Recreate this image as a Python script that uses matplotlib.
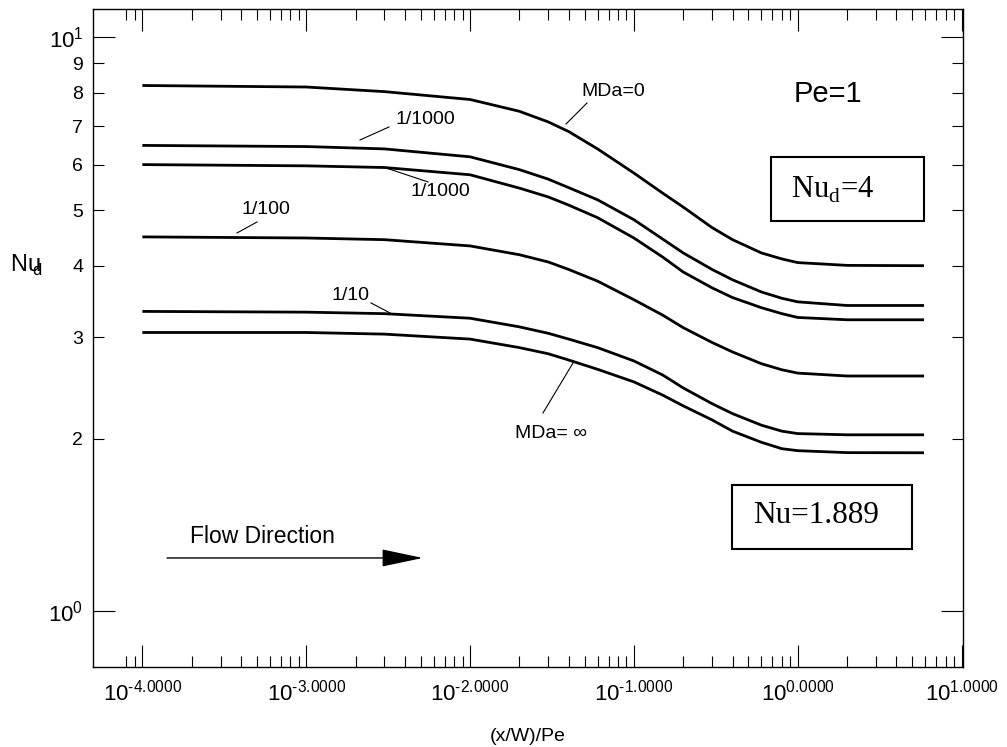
import numpy as np
import matplotlib
matplotlib.use("Agg")
from matplotlib import pyplot as plt
from matplotlib.ticker import FixedLocator, FixedFormatter, NullFormatter
from matplotlib.patches import Rectangle

plt.rcParams['font.family'] = ['Liberation Sans', 'DejaVu Sans']

#======Data======
xPts = [1e-4, 1e-3, 3e-3, 1e-2, 2e-2, 3e-2, 4e-2, 6e-2, 0.1, 0.15, 0.2, 0.3, 0.4, 0.6, 0.8, 1.0, 2.0, 5.9]
nuMDa0 = [8.24, 8.19, 8.04, 7.79, 7.43, 7.12, 6.85, 6.39, 5.80, 5.35, 5.06, 4.66, 4.44, 4.21, 4.11, 4.05, 4.005, 4.00]
nuA = [6.48, 6.45, 6.39, 6.19, 5.88, 5.66, 5.47, 5.21, 4.81, 4.45, 4.21, 3.94, 3.78, 3.60, 3.51, 3.46, 3.41, 3.41]
nuB = [6.00, 5.97, 5.93, 5.76, 5.46, 5.27, 5.10, 4.85, 4.47, 4.14, 3.90, 3.66, 3.52, 3.38, 3.30, 3.25, 3.22, 3.22]
nu100 = [4.49, 4.47, 4.44, 4.33, 4.18, 4.06, 3.94, 3.76, 3.49, 3.28, 3.12, 2.94, 2.83, 2.70, 2.635, 2.60, 2.57, 2.57]
nu10 = [3.33, 3.32, 3.30, 3.24, 3.13, 3.05, 2.98, 2.88, 2.73, 2.58, 2.45, 2.30, 2.21, 2.11, 2.06, 2.04, 2.03, 2.03]
nuInf = [3.06, 3.06, 3.04, 2.98, 2.88, 2.81, 2.74, 2.64, 2.51, 2.38, 2.28, 2.155, 2.06, 1.97, 1.92, 1.905, 1.89, 1.889]
curves = [nuMDa0, nuA, nuB, nu100, nu10, nuInf]

xMajor = [1e-4, 1e-3, 1e-2, 1e-1, 1e0, 1e1]
xMajorLabels = ['$\\mathregular{10^{\u20104.0000}}$', '$\\mathregular{10^{\u20103.0000}}$',
                '$\\mathregular{10^{\u20102.0000}}$', '$\\mathregular{10^{\u20101.0000}}$',
                r'$\mathregular{10^{0.0000}}$', r'$\mathregular{10^{1.0000}}$']
yMajor = [1, 10]
yMajorLabels = [r'$\mathregular{10^{0}}$', r'$\mathregular{10^{1}}$']
yMinor = [2, 3, 4, 5, 6, 7, 8, 9]
yMinorLabels = ['2', '3', '4', '5', '6', '7', '8', '9']
#====================================

fig = plt.figure(figsize=(10.07, 7.47), dpi=100)
ax = fig.add_axes([0.0924, 0.1071, 0.8639, 0.8809])

for nu in curves:
    ax.plot(xPts, nu, color='black', lw=2.0, solid_capstyle='butt')

ax.set_xscale('log')
ax.set_yscale('log')
ax.set_xlim(5e-5, 10.2)
ax.set_ylim(0.8, 11.2)

# ticks: only 8e-5, 9e-5 below the first decade, then 2..9 per decade
xMinor = [8e-5, 9e-5] + [m * 10.0**e for e in range(-4, 1) for m in range(2, 10)]
ax.xaxis.set_major_locator(FixedLocator(xMajor))
ax.xaxis.set_major_formatter(FixedFormatter(xMajorLabels))
ax.xaxis.set_minor_locator(FixedLocator(xMinor))
ax.xaxis.set_minor_formatter(NullFormatter())
ax.yaxis.set_major_locator(FixedLocator(yMajor))
ax.yaxis.set_major_formatter(FixedFormatter(yMajorLabels))
ax.yaxis.set_minor_locator(FixedLocator(yMinor))
ax.yaxis.set_minor_formatter(FixedFormatter(yMinorLabels))

ax.tick_params(which='both', direction='in', top=True, right=True, width=0.8)
ax.tick_params(which='major', length=16)
ax.tick_params(which='minor', length=8)
ax.tick_params(axis='x', which='major', labelsize=16, pad=9)
ax.tick_params(axis='y', which='major', labelsize=16, pad=7)
ax.tick_params(axis='y', which='minor', labelsize=14, pad=7)
for s in ax.spines.values():
    s.set_linewidth(1.0)

fig.text(10 / 1007, 1 - 265 / 747, r'Nu$\!\!_\mathregular{d}$', fontsize=17,
         ha='left', va='center')
ax.set_xlabel('(x/W)/Pe', fontsize=14, labelpad=16)

# curve labels with leader lines (axes fraction)
labels = [
    ('MDa=0', (0.598, 0.875), (0.5437, 0.8252), (0.5678, 0.8571)),
    ('1/1000', (0.3816, 0.8313), (0.3069, 0.8009), (0.3402, 0.8207)),
    ('1/1000', (0.3989, 0.7219), (0.3333, 0.7599), (0.3851, 0.7371)),
    ('1/100', (0.1989, 0.6945), (0.1655, 0.6596), (0.1885, 0.6763)),
    ('1/10', (0.2954, 0.5638), (0.3195, 0.5532), (0.3414, 0.5380)),
    ('MDa= \u221e', (0.5264, 0.3541), (0.5172, 0.3860), (0.5517, 0.4620)),
]
for txt, pos, p0, p1 in labels:
    ax.text(pos[0], pos[1], txt, transform=ax.transAxes, fontsize=14,
            ha='center', va='center')
    ax.plot([p0[0], p1[0]], [p0[1], p1[1]], transform=ax.transAxes,
            color='black', lw=0.8)

ax.text(0.8448, 0.8708, 'Pe=1', transform=ax.transAxes, fontsize=21,
        ha='center', va='center')

# boxed notes (serif)
ax.add_patch(Rectangle((0.7793, 0.6778), 0.9552 - 0.7793, 0.7751 - 0.6778,
                       transform=ax.transAxes, fill=False, lw=1.5, ec='black'))
ax.text(0.8506, 0.7249, r'Nu$_\mathregular{d}$=4', transform=ax.transAxes,
        fontsize=22, family='Liberation Serif', ha='center', va='center')
ax.add_patch(Rectangle((0.7345, 0.1793), 0.9414 - 0.7345, 0.2766 - 0.1793,
                       transform=ax.transAxes, fill=False, lw=1.5, ec='black'))
ax.text(0.8316, 0.2295, 'Nu=1.889', transform=ax.transAxes,
        fontsize=22.5, family='Liberation Serif', ha='center', va='center')

# flow direction arrow
ax.text(0.1115, 0.1976, 'Flow Direction', transform=ax.transAxes,
        fontsize=16.5, ha='left', va='center')
ax.annotate('', xy=(0.379, 0.1657), xytext=(0.0851, 0.1657),
            xycoords='axes fraction', textcoords='axes fraction',
            arrowprops=dict(arrowstyle='-|>,head_length=2.6,head_width=0.55',
                            mutation_scale=10, lw=1.0, color='black',
                            shrinkA=0, shrinkB=0))

fig.savefig('out.png', dpi=100)
